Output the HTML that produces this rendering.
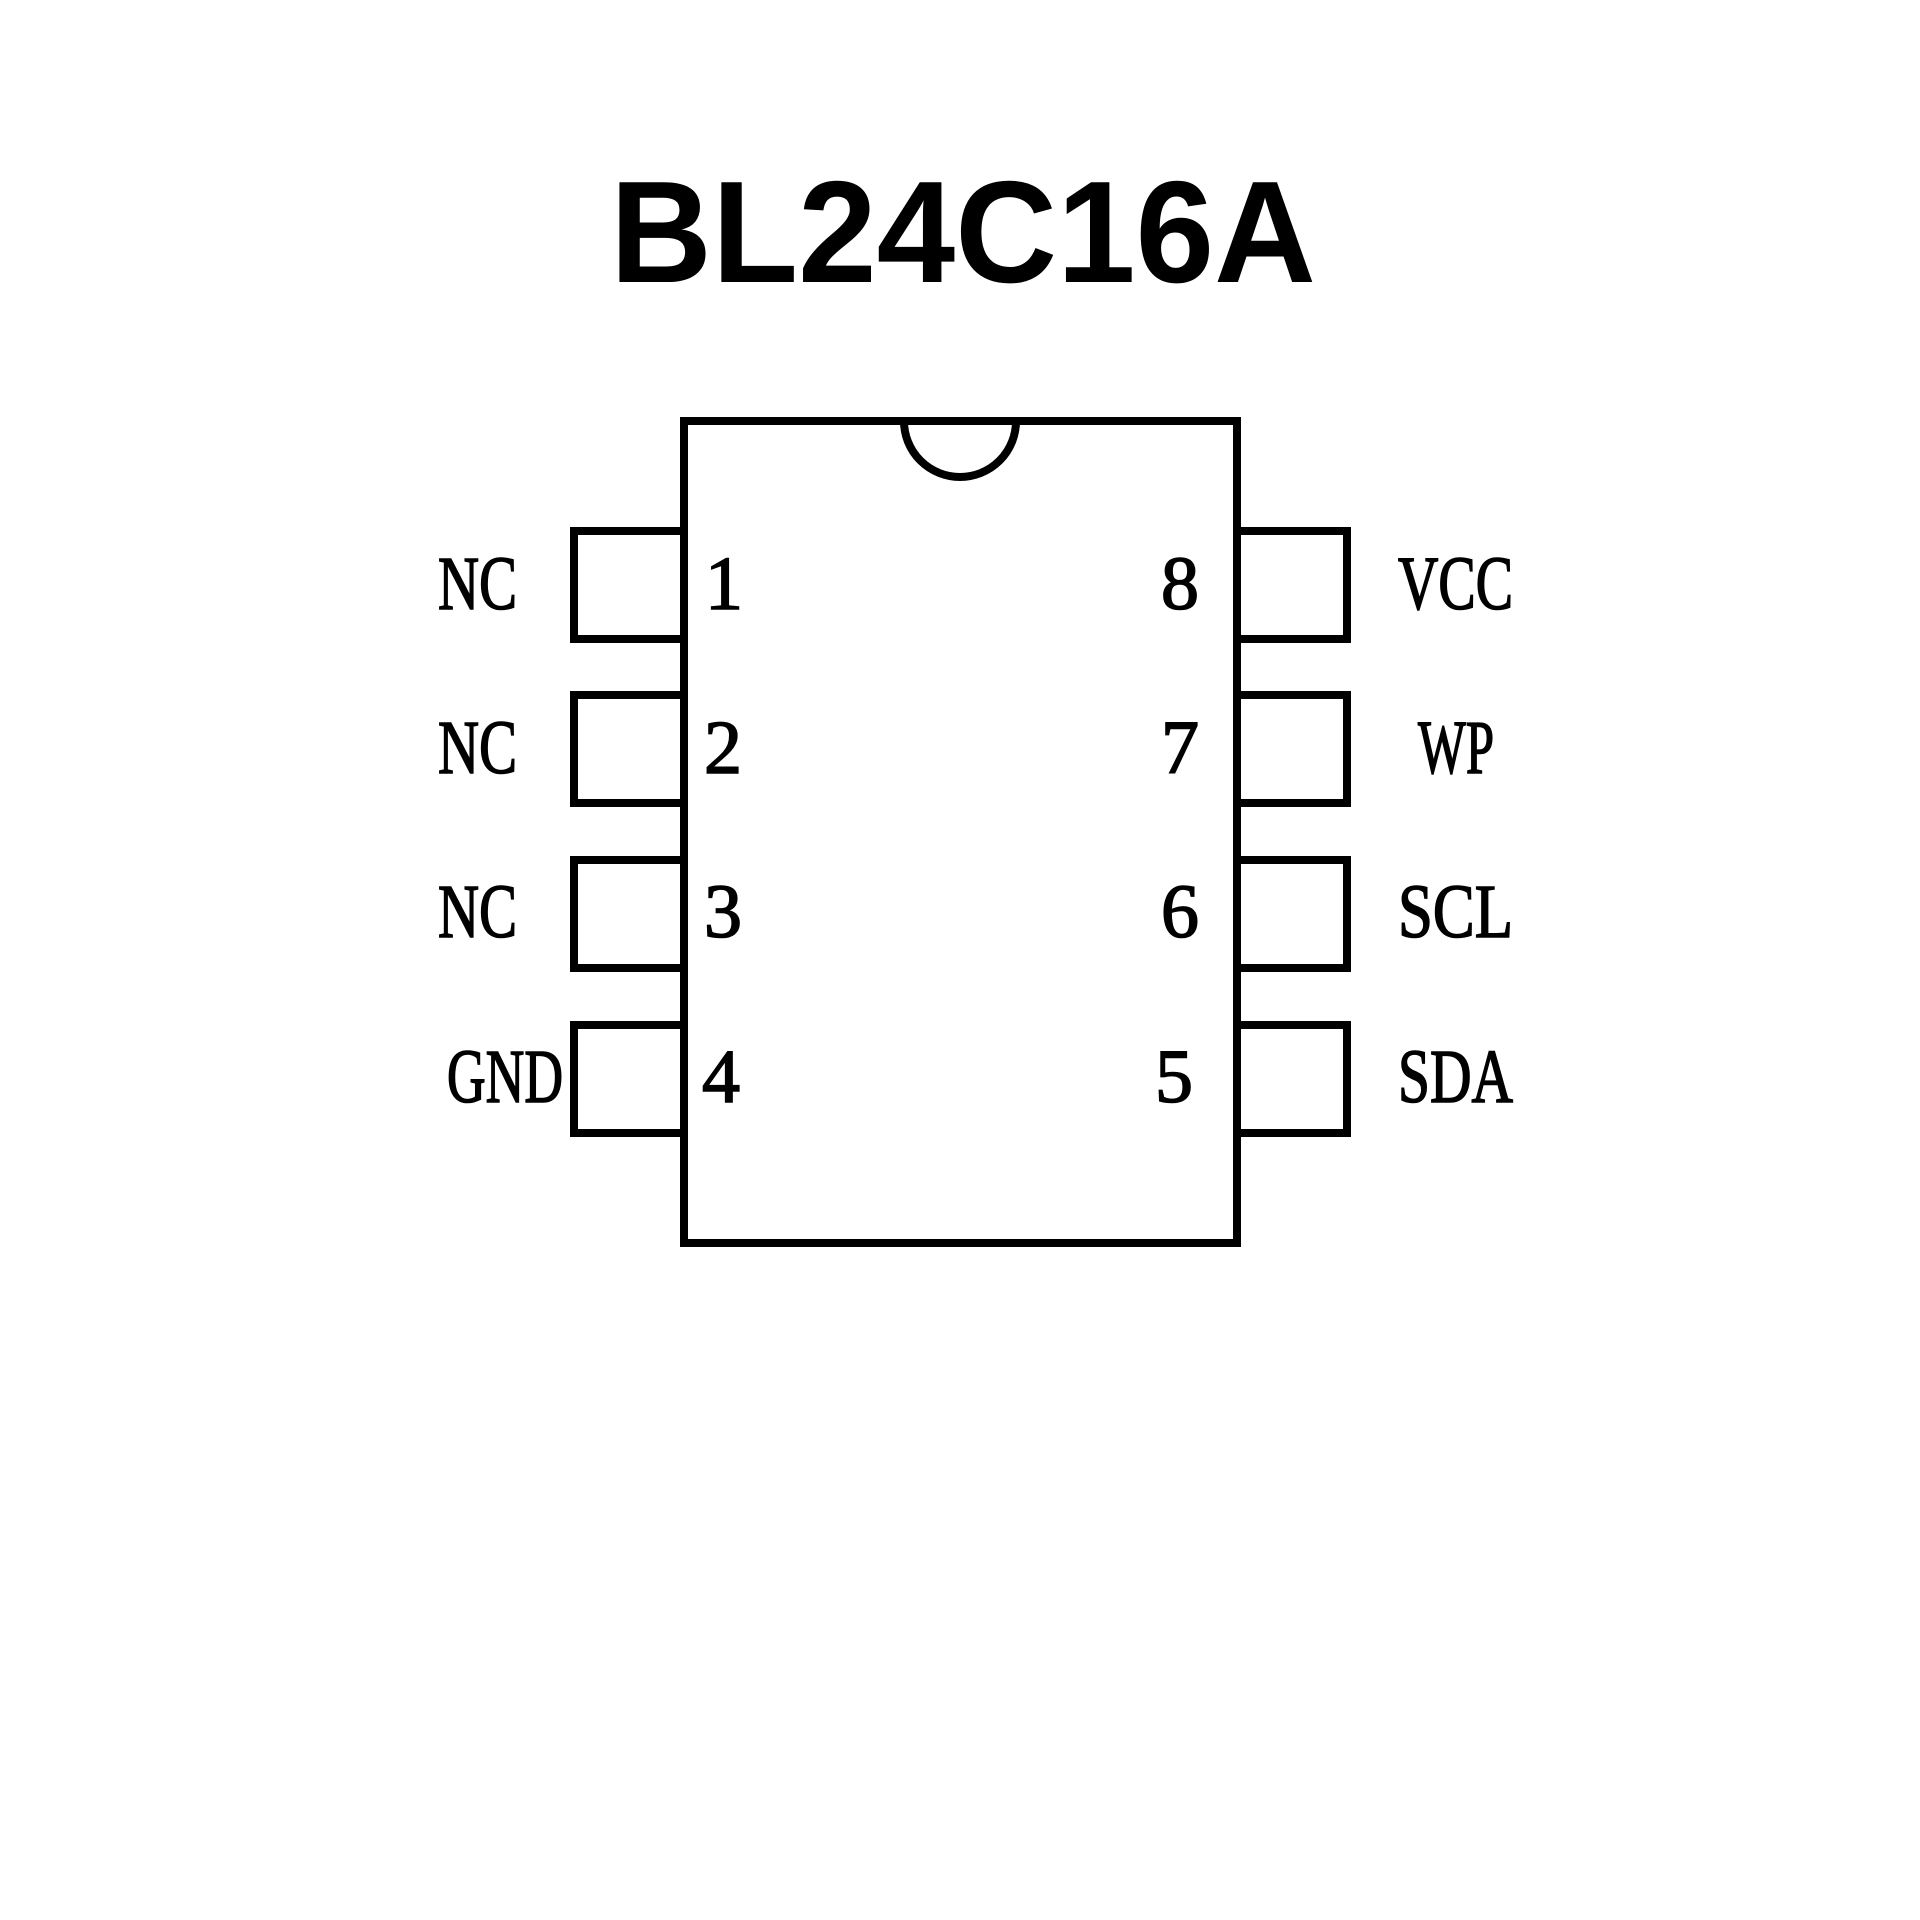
<!DOCTYPE html>
<html><head><style>html,body{margin:0;padding:0;background:#fff}svg{display:block}</style></head>
<body>
<svg width="1920" height="1920" viewBox="0 0 1920 1920" xmlns="http://www.w3.org/2000/svg">
<rect width="1920" height="1920" fill="#fff"/>
<text x="610" y="282" font-family="Liberation Sans, sans-serif" font-weight="bold" font-size="145" textLength="706" lengthAdjust="spacingAndGlyphs">BL24C16A</text>
<g fill="none" stroke="#000" stroke-width="8" stroke-linejoin="miter">
<rect x="684" y="421" width="553" height="822"/>
<path d="M904 421 A56 56 0 0 0 1016 421"/>
<rect x="574" y="531" width="110" height="108"/>
<rect x="574" y="695" width="110" height="108"/>
<rect x="574" y="860" width="110" height="108"/>
<rect x="574" y="1025" width="110" height="108"/>
<rect x="1237" y="531" width="110" height="108"/>
<rect x="1237" y="695" width="110" height="108"/>
<rect x="1237" y="860" width="110" height="108"/>
<rect x="1237" y="1025" width="110" height="108"/>
</g>
<g font-family="Liberation Serif, serif" font-size="76" fill="#000" stroke="#000" stroke-width="1.6">
<text x="438" y="609" textLength="79" lengthAdjust="spacingAndGlyphs">NC</text>
<text x="438" y="773" textLength="79" lengthAdjust="spacingAndGlyphs">NC</text>
<text x="438" y="937" textLength="79" lengthAdjust="spacingAndGlyphs">NC</text>
<text x="447" y="1102" textLength="116" lengthAdjust="spacingAndGlyphs">GND</text>
<text x="1398" y="609" textLength="115" lengthAdjust="spacingAndGlyphs">VCC</text>
<text x="1418" y="773" textLength="76" lengthAdjust="spacingAndGlyphs">WP</text>
<text x="1398" y="937" textLength="115" lengthAdjust="spacingAndGlyphs">SCL</text>
<text x="1398" y="1102" textLength="115" lengthAdjust="spacingAndGlyphs">SDA</text>
<text x="705" y="609">1</text>
<text x="704" y="773">2</text>
<text x="704" y="937">3</text>
<text x="702" y="1102">4</text>
<text x="1161" y="609">8</text>
<text x="1161" y="773">7</text>
<text x="1161" y="937">6</text>
<text x="1155" y="1102">5</text>
</g>
</svg>
</body></html>
